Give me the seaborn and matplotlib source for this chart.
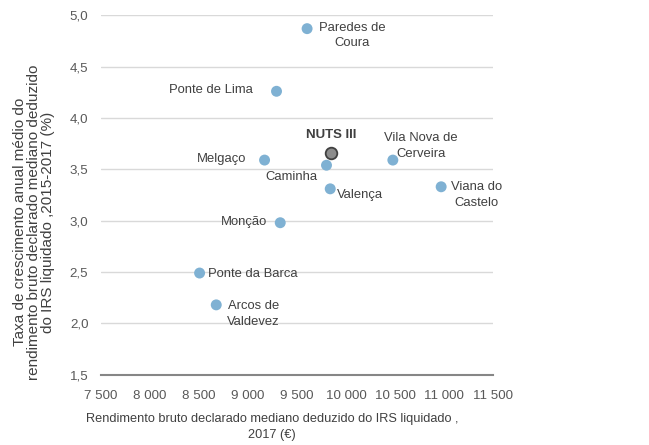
import numpy as np
import pandas as pd
import matplotlib
matplotlib.use("Agg")
import matplotlib.pyplot as plt
import seaborn as sns

# data
concelhos = ["Paredes de\nCoura", "Ponte de Lima", "Melgaço", "Caminha", "Vila Nova de\nCerveira",
             "Viana do\nCastelo", "Valença", "Monção", "Ponte da Barca", "Arcos de\nValdevez"]
rendimento = [9603, 9291, 9169, 9801, 10478, 10971, 9839, 9329, 8506, 8676]
taxa = [4.87, 4.26, 3.59, 3.54, 3.59, 3.33, 3.31, 2.98, 2.49, 2.18]
nuts_rendimento = [9842]
nuts_taxa = [3.66]
x_ticks = [7500, 8000, 8500, 9000, 9500, 10000, 10500, 11000, 11500]
y_ticks = [1.5, 2.0, 2.5, 3.0, 3.5, 4.0, 4.5, 5.0]

# label offsets in pixels (dx, dy, ha)
offsets = {
    "Paredes de\nCoura": (45, -7, "center"),
    "Ponte de Lima": (-24, 1, "right"),
    "Melgaço": (-18, 1.5, "right"),
    "Caminha": (-35, -12, "center"),
    "Vila Nova de\nCerveira": (28, 14, "center"),
    "Viana do\nCastelo": (35, -8.5, "center"),
    "Valença": (6.5, -6.5, "left"),
    "Monção": (-13, 1, "right"),
    "Ponte da Barca": (8, -1.3, "left"),
    "Arcos de\nValdevez": (37, -9, "center"),
}

df = pd.DataFrame({"concelho": concelhos, "rendimento": rendimento, "taxa": taxa})

sns.set_style("white")
plt.rcParams["font.family"] = ["Liberation Sans", "DejaVu Sans"]

txt = "#404040"
fig = plt.figure(figsize=(6.49, 4.45), dpi=100)
ax = fig.add_axes([101 / 649, 1 - 374.7 / 445, 392 / 649, 359.4 / 445])

sns.scatterplot(data=df, x="rendimento", y="taxa", ax=ax, s=62, color="#7FB1D3",
                edgecolor="none", zorder=3)
sns.scatterplot(x=nuts_rendimento, y=nuts_taxa, ax=ax, s=70, color="#8C8C8C",
                edgecolor="#404040", linewidth=1.3, zorder=4)

for name, xv, yv in zip(concelhos, rendimento, taxa):
    dx, dy, ha = offsets[name]
    ax.annotate(name, (xv, yv), xytext=(dx, dy), textcoords="offset pixels",
                ha=ha, va="center", multialignment="center", fontsize=9.4,
                color=txt, linespacing=1.4)
ax.annotate("NUTS III", (nuts_rendimento[0], nuts_taxa[0]), xytext=(0.5, 17.5),
            textcoords="offset pixels", ha="center", va="center", fontsize=9.5,
            color=txt, fontweight="bold")

ax.set_xlim(7500, 11500)
ax.set_ylim(1.5, 5.0)
ax.set_xticks(x_ticks)
ax.set_xticklabels([f"{v:,}".replace(",", " ") for v in x_ticks])
ax.set_yticks(y_ticks)
ax.set_yticklabels([f"{v:.1f}".replace(".", ",") for v in y_ticks])
ax.tick_params(axis="both", length=0, labelsize=9.6, labelcolor="#595959")
ax.tick_params(axis="x", pad=11)
ax.tick_params(axis="y", pad=9)
ax.grid(axis="y", color="#D9D9D9", linewidth=1)
ax.set_axisbelow(True)
for side in ["top", "right", "left"]:
    ax.spines[side].set_visible(False)
ax.spines["bottom"].set_color("#868686")
ax.spines["bottom"].set_linewidth(1.5)
ax.set_xlabel("")
ax.set_ylabel("")

fig.text(34 / 649, 1 - 222 / 445,
         "Taxa de crescimento anual médio do\nrendimento bruto declarado mediano deduzido\ndo IRS liquidado ,2015-2017 (%)",
         rotation=90, ha="center", va="center", multialignment="center",
         fontsize=11, color=txt, linespacing=1.0)
fig.text(272 / 649, 1 - 427 / 445,
         "Rendimento bruto declarado mediano deduzido do IRS liquidado ,\n2017 (€)",
         ha="center", va="center", multialignment="center",
         fontsize=9.2, color=txt, linespacing=1.45)

fig.savefig("out.png", dpi=100)
